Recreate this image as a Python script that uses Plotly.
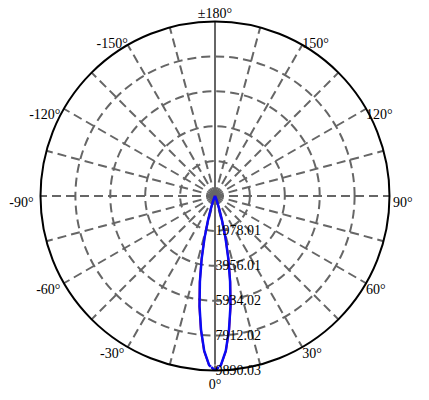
import plotly.graph_objects as go

# Luminous intensity (cd) vs angle (deg)
angles = [0, 2, 4, 6, 8, 10, 12, 14, 16, 18, 20, 25, 30, 40, 60, 90, 120, 150, 180]
c0_values = [9890.03, 9600, 8820, 7650, 6350, 4980, 3680, 2480, 1480, 790, 390, 100, 30, 5, 0, 0, 0, 0, 0]
c90_values = [9890.03, 9590, 8790, 7600, 6300, 4930, 3640, 2460, 1470, 780, 385, 100, 30, 5, 0, 0, 0, 0, 0]

radial_ticks = [1978.01, 3956.01, 5934.02, 7912.02, 9890.03]
radial_labels = ["1978.01", "3956.01", "5934.02", "7912.02", "9890.03"]
grid_angles = list(range(0, 360, 15))
label_angles = [0, 30, 60, 90, 120, 150, 180, 210, 240, 270, 300, 330]
NB = "\u00a0"
label_texts = ["0°", "30°", "60°", NB + "90°", "120°", "150°", "±180°", "-150°",
               "-120°" + NB, "-90°" + NB + NB, "-60°" + NB, "-30°" + NB]
label_positions = ["bottom center", "bottom right", "bottom right", "bottom right", "bottom right",
                   "middle right", "top center", "middle left", "bottom left", "bottom left",
                   "bottom left", "bottom left"]
label_offsets = [11, 0, 0, 0, 0, 0, 0, 0, 0, 0, 0, 0]

R_MAX = radial_ticks[-1]


def mirror(a, v):
    th = [-x for x in reversed(a[1:])] + a
    r = list(reversed(v[1:])) + v
    return th, r


fig = go.Figure()

# solid vertical axis line (0° – 180°)
fig.add_trace(go.Scatterpolar(r=[R_MAX, 0, R_MAX], theta=[180, 180, 0], mode="lines",
                              line=dict(color="#666666", width=2), hoverinfo="skip",
                              showlegend=False))

th, r = mirror(angles, c0_values)
fig.add_trace(go.Scatterpolar(r=r, theta=th, mode="lines",
                              line=dict(color="#d0102a", width=2), showlegend=False))
th, r = mirror(angles, c90_values)
fig.add_trace(go.Scatterpolar(r=r, theta=th, mode="lines",
                              line=dict(color="#0a0af5", width=2.5), showlegend=False))

# angle labels (invisible markers set the text's offset from the rim)
fig.add_trace(go.Scatterpolar(r=[R_MAX] * len(label_angles), theta=label_angles, mode="markers+text",
                              marker=dict(size=label_offsets, color="rgba(0,0,0,0)"),
                              text=label_texts, textposition=label_positions,
                              textfont=dict(family="Liberation Serif", size=14, color="black"),
                              cliponaxis=False, hoverinfo="skip", showlegend=False))

cx0, cx1 = 40.5, 389.5
cy0, cy1 = 21.5, 370.5

fig.update_layout(
    width=429, height=400,
    margin=dict(l=0, r=0, t=0, b=0),
    paper_bgcolor="white",
    font=dict(family="Liberation Serif", size=14, color="black"),
    polar=dict(
        domain=dict(x=[cx0 / 429, cx1 / 429], y=[(400 - cy1) / 400, (400 - cy0) / 400]),
        bgcolor="white",
        angularaxis=dict(
            rotation=-90, direction="counterclockwise",
            tickmode="array", tickvals=grid_angles, showticklabels=False,
            showline=True, linecolor="black", linewidth=2,
            showgrid=True, gridcolor="#666666", gridwidth=2, griddash="9px,5px",
            ticks="",
        ),
        radialaxis=dict(
            range=[0, R_MAX], angle=-90, tickangle=-90, side="counterclockwise",
            tickmode="array", tickvals=radial_ticks, ticktext=radial_labels,
            showline=False, ticks="",
            showgrid=True, gridcolor="#666666", gridwidth=2, griddash="9px,5px",
            tickfont=dict(family="Liberation Serif", size=14, color="black"),
        ),
    ),
)

fig.write_html(
    "out.html",
    config={"displayModeBar": False},
    post_script="document.body.style.margin='0';document.body.style.padding='0';",
)
